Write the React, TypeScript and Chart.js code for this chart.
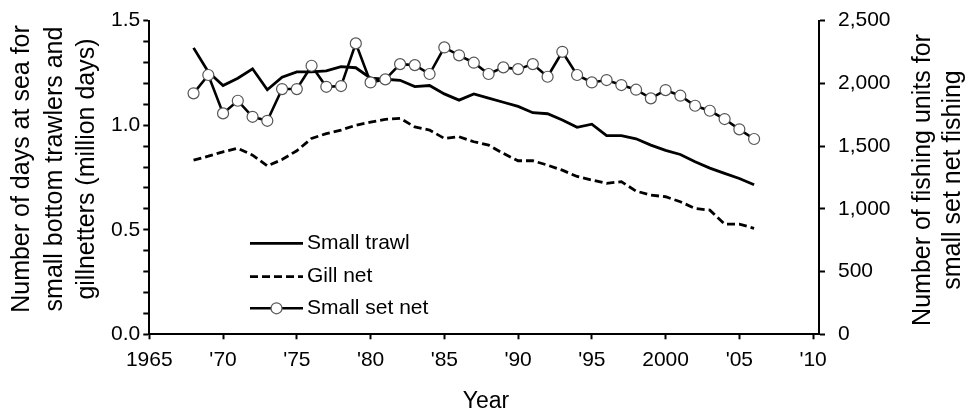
import React, { useEffect, useRef } from 'react';
import { Chart, registerables } from 'chart.js';

Chart.register(...registerables);

const YEARS = [
  1968, 1969, 1970, 1971, 1972, 1973, 1974, 1975, 1976, 1977,
  1978, 1979, 1980, 1981, 1982, 1983, 1984, 1985, 1986, 1987,
  1988, 1989, 1990, 1991, 1992, 1993, 1994, 1995, 1996, 1997,
  1998, 1999, 2000, 2001, 2002, 2003, 2004, 2005, 2006,
];

// million days (left axis)
const SMALL_TRAWL = [
  1.37, 1.255, 1.19, 1.225, 1.27, 1.17, 1.23, 1.255, 1.255, 1.26,
  1.28, 1.275, 1.225, 1.22, 1.215, 1.185, 1.19, 1.15, 1.12, 1.15,
  1.13, 1.11, 1.09, 1.06, 1.055, 1.025, 0.99, 1.005, 0.95, 0.95,
  0.935, 0.905, 0.88, 0.86, 0.825, 0.795, 0.77, 0.745, 0.715,
];

// million days (left axis)
const GILL_NET = [
  0.833, 0.852, 0.873, 0.89, 0.857, 0.805, 0.836, 0.878, 0.937, 0.96,
  0.977, 1.0, 1.015, 1.028, 1.033, 0.992, 0.977, 0.937, 0.945, 0.921,
  0.905, 0.865, 0.83, 0.83, 0.809, 0.785, 0.755, 0.738, 0.722, 0.73,
  0.685, 0.666, 0.658, 0.634, 0.602, 0.594, 0.527, 0.527, 0.507,
];

// fishing units (right axis)
const SMALL_SET_NET = [
  1921, 2067, 1761, 1862, 1734, 1702, 1955, 1955, 2141, 1973,
  1979, 2319, 2008, 2032, 2154, 2146, 2075, 2287, 2224, 2165,
  2075, 2128, 2114, 2154, 2053, 2252, 2067, 2008, 2027, 1987,
  1950, 1881, 1947, 1902, 1822, 1782, 1716, 1634, 1557,
];

const X_TICKS = [1965, 1970, 1975, 1980, 1985, 1990, 1995, 2000, 2005, 2010];
const SERIES_LABELS = ['Small trawl', 'Gill net', 'Small set net'];
const LEFT_TITLE = ['Number of days at sea for', 'small bottom trawlers and', 'gillnetters (million days)'];
const RIGHT_TITLE = ['Number of fishing units for', 'small set net fishing'];
const X_TITLE = 'Year';

const FONT = "'Liberation Sans', Arial, Helvetica, sans-serif";

export default function App() {
  const ref = useRef<HTMLCanvasElement>(null);

  useEffect(() => {
    if (!ref.current) return;
    const toPts = (vals: number[]) => YEARS.map((x, i) => ({ x, y: vals[i] }));

    const textPlugin = {
      id: 'customText',
      afterDraw(chart: any) {
        const ctx = chart.ctx as CanvasRenderingContext2D;
        ctx.save();
        ctx.fillStyle = '#000';
        ctx.textAlign = 'center';
        ctx.textBaseline = 'middle';
        ctx.font = `25px ${FONT}`;
        // left title
        const lx = [22, 55, 87];
        LEFT_TITLE.forEach((t, i) => {
          ctx.save();
          ctx.translate(lx[i], 169);
          ctx.rotate(-Math.PI / 2);
          ctx.fillText(t, 0, 0);
          ctx.restore();
        });
        // right title
        const rx = [923, 953];
        RIGHT_TITLE.forEach((t, i) => {
          ctx.save();
          ctx.translate(rx[i], 180);
          ctx.rotate(-Math.PI / 2);
          ctx.fillText(t, 0, 0);
          ctx.restore();
        });
        // x title
        ctx.font = `23px ${FONT}`;
        ctx.fillText(X_TITLE, 486, 401.5);

        // legend
        const rows = [243.3, 276.7, 308.3];
        const x0 = 250;
        const x1 = 303;
        ctx.font = `21px ${FONT}`;
        ctx.textAlign = 'left';
        chart.data.datasets.forEach((ds: any, i: number) => {
          const y = rows[i];
          ctx.save();
          ctx.strokeStyle = ds.borderColor;
          ctx.lineWidth = ds.borderWidth;
          ctx.setLineDash(ds.borderDash || []);
          ctx.beginPath();
          ctx.moveTo(x0, y);
          ctx.lineTo(x1, y);
          ctx.stroke();
          ctx.restore();
          if (ds.pointRadius > 0) {
            ctx.save();
            ctx.beginPath();
            ctx.arc((x0 + x1) / 2, y, ds.pointRadius, 0, Math.PI * 2);
            ctx.fillStyle = ds.pointBackgroundColor;
            ctx.fill();
            ctx.lineWidth = ds.pointBorderWidth;
            ctx.strokeStyle = ds.pointBorderColor;
            ctx.stroke();
            ctx.restore();
          }
          ctx.fillStyle = '#000';
          ctx.fillText(ds.label, 307, y);
        });
        ctx.restore();
      },
    };

    const axisCommon = {
      grid: { drawOnChartArea: false, color: '#000', tickWidth: 2, tickLength: 6 },
      border: { display: true, color: '#000', width: 2 },
    };

    const chart = new Chart(ref.current, {
      type: 'line',
      data: {
        datasets: [
          {
            label: SERIES_LABELS[0],
            data: toPts(SMALL_TRAWL),
            yAxisID: 'y',
            borderColor: '#000',
            borderWidth: 2.8,
            pointRadius: 0,
            tension: 0,
            order: 1,
          },
          {
            label: SERIES_LABELS[1],
            data: toPts(GILL_NET),
            yAxisID: 'y',
            borderColor: '#000',
            borderWidth: 2.8,
            borderDash: [8, 4],
            pointRadius: 0,
            tension: 0,
            order: 2,
          },
          {
            label: SERIES_LABELS[2],
            data: toPts(SMALL_SET_NET),
            yAxisID: 'y1',
            borderColor: '#000',
            borderWidth: 2.6,
            pointRadius: 5.5,
            pointBackgroundColor: '#fff',
            pointBorderColor: '#555',
            pointBorderWidth: 1.2,
            tension: 0,
            order: 0,
          },
        ],
      },
      options: {
        animation: false,
        responsive: false,
        layout: { padding: { top: 20.7, left: 0, right: 0, bottom: 0 } },
        plugins: { legend: { display: false }, tooltip: { enabled: false } },
        scales: {
          x: {
            type: 'linear',
            min: 1965,
            max: 2010.4,
            afterBuildTicks: (s: any) => {
              s.ticks = X_TICKS.map((v) => ({ value: v }));
            },
            afterFit: (s: any) => {
              s.height = 85.7;
            },
            ticks: {
              autoSkip: false,
              maxRotation: 0,
              padding: 8,
              color: '#000',
              font: { family: FONT, size: 21 },
              callback: (v: any) => {
                const n = Number(v);
                return n === 1965 || n === 2000 ? String(n) : "'" + String(n).slice(2);
              },
            },
            grid: { drawOnChartArea: false, color: '#000', tickWidth: 2, tickLength: 5 },
            border: axisCommon.border,
          },
          y: {
            position: 'left',
            min: 0,
            max: 1.5,
            afterFit: (s: any) => {
              s.width = 149.3;
              s.paddingTop = 10;
              s.paddingBottom = 10;
            },
            ticks: {
              stepSize: 0.1,
              autoSkip: false,
              padding: 3,
              color: '#000',
              font: { family: FONT, size: 21 },
              callback: (v: any) => {
                const n = Number(v);
                return Math.abs(n * 2 - Math.round(n * 2)) < 1e-6 ? n.toFixed(1) : '';
              },
            },
            ...axisCommon,
          },
          y1: {
            position: 'right',
            min: 0,
            max: 2500,
            afterFit: (s: any) => {
              s.width = 151;
              s.paddingTop = 10;
              s.paddingBottom = 10;
            },
            ticks: {
              stepSize: 500,
              autoSkip: false,
              padding: 13,
              color: '#000',
              font: { family: FONT, size: 21 },
              callback: (v: any) => Number(v).toLocaleString('en-US'),
            },
            ...axisCommon,
          },
        },
      },
      plugins: [textPlugin],
    } as any);

    return () => chart.destroy();
  }, []);

  return (
    <div style={{ position: 'fixed', left: 0, top: 0, width: 970, height: 420, background: '#fff' }}>
      <canvas ref={ref} width={970} height={420} style={{ display: 'block' }} />
    </div>
  );
}
